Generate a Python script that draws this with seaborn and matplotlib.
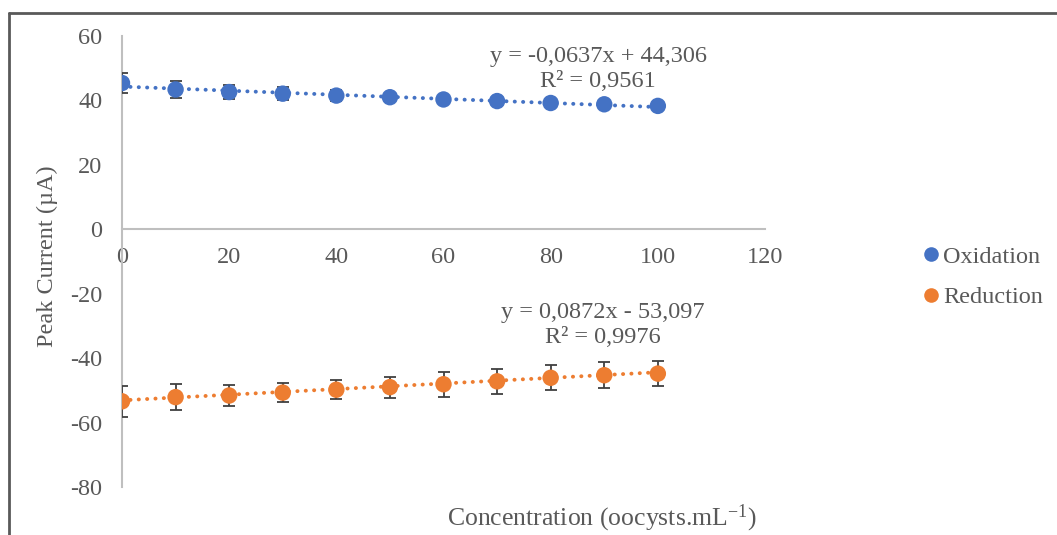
import numpy as np
import pandas as pd
import matplotlib
matplotlib.use("Agg")
import matplotlib.pyplot as plt
from matplotlib.lines import Line2D
import seaborn as sns

# Measured peak currents versus oocyst concentration
concentration = [0, 10, 20, 30, 40, 50, 60, 70, 80, 90, 100]
oxidation = [45.4, 43.4, 42.6, 42.1, 41.5, 41.0, 40.3, 39.8, 39.2, 38.8, 38.3]
oxidation_err = [3.0, 2.7, 2.3, 2.0, 1.8, 1.3, 1.0, 0.8, 0.7, 0.6, 0.5]
reduction = [-53.4, -52.1, -51.6, -50.7, -49.8, -49.0, -48.1, -47.2, -46.1, -45.3, -44.8]
reduction_err = [4.9, 4.0, 3.3, 2.9, 2.9, 3.3, 3.9, 3.8, 3.9, 4.1, 4.0]

# Linear trendline coefficients (slope, intercept, R²)
ox_fit = (-0.0637, 44.306, 0.9561)
red_fit = (0.0872, -53.097, 0.9976)

series_names = ["Oxidation", "Reduction"]
x_ticks = [0, 20, 40, 60, 80, 100, 120]
y_ticks = [-80, -60, -40, -20, 0, 20, 40, 60]

blue = "#4472C4"
orange = "#ED7D31"
text_grey = "#595959"
axis_grey = "#BFBFBF"
FS = 17.5

sns.set_theme(style="white")
plt.rcParams["font.family"] = ["Liberation Serif", "DejaVu Serif"]
plt.rcParams["mathtext.fontset"] = "custom"
plt.rcParams["mathtext.rm"] = "Liberation Serif"
plt.rcParams["mathtext.it"] = "Liberation Serif:italic"

W, H = 1057, 535
fig = plt.figure(figsize=(W / 100, H / 100), dpi=100)
ax = fig.add_axes([122 / W, 1 - 487 / H, (765 - 122) / W, (487 - 36) / H])

df = pd.DataFrame({
    "Concentration": concentration * 2,
    "Current": oxidation + reduction,
    "Err": oxidation_err + reduction_err,
    "Series": [series_names[0]] * len(concentration) + [series_names[1]] * len(concentration),
})

palette = {series_names[0]: blue, series_names[1]: orange}

# trendlines
xs = np.array([concentration[0], concentration[-1]], dtype=float)
for name, (m, b, _) in zip(series_names, [ox_fit, red_fit]):
    sns.lineplot(x=xs, y=m * xs + b, ax=ax, color=palette[name],
                 linestyle=(0, (0.05, 2.1)), linewidth=2.8,
                 dash_capstyle="round", zorder=2)

# error bars
for name, vals, errs in [(series_names[0], oxidation, oxidation_err),
                         (series_names[1], reduction, reduction_err)]:
    ax.errorbar(concentration, vals, yerr=errs, fmt="none", ecolor="#404040",
                elinewidth=1.3, capsize=4.2, capthick=1.3, zorder=3)

sns.scatterplot(data=df, x="Concentration", y="Current", hue="Series",
                palette=palette, s=140, edgecolor="none", ax=ax,
                legend=False, zorder=4)

ax.set_xlim(0, 120)
ax.set_ylim(-80, 60)
ax.set_xticks(x_ticks)
ax.set_yticks(y_ticks)
ax.set_xticklabels([str(t) for t in x_ticks])
ax.set_yticklabels([str(t) for t in y_ticks])
ax.set_xlabel("")
ax.set_ylabel("")

for s in ["top", "right"]:
    ax.spines[s].set_visible(False)
ax.spines["bottom"].set_position(("data", 0))
ax.spines["bottom"].set_color(axis_grey)
ax.spines["bottom"].set_linewidth(1.5)
ax.spines["left"].set_color(axis_grey)
ax.spines["left"].set_linewidth(1.5)
ax.tick_params(axis="both", length=0, labelsize=FS, labelcolor=text_grey)
ax.tick_params(axis="x", pad=13)
ax.tick_params(axis="y", pad=14)
ax.patch.set_alpha(0)

# trendline equations
def eq_text(m, b, r2):
    sign = "+" if b >= 0 else "-"
    ms = f"{m:.4f}".replace(".", ",")
    bs = f"{abs(b):.3f}".replace(".", ",")
    rs = f"{r2:.4f}".replace(".", ",")
    return f"y = {ms}x {sign} {bs}\nR² = {rs}"

fig.text(598 / W, 1 - 69 / H, eq_text(*ox_fit), ha="center", va="center",
         fontsize=FS, color=text_grey, linespacing=1.3)
fig.text(603 / W, 1 - 325 / H, eq_text(*red_fit), ha="center", va="center",
         fontsize=FS, color=text_grey, linespacing=1.3)

# axis titles
fig.text(47 / W, 1 - 256 / H, "Peak Current (µA)", rotation=90,
         ha="center", va="center", fontsize=FS, color=text_grey)
fig.text(602 / W, 1 - 518 / H, r"Concentration (oocysts.mL$^{-1}$)",
         ha="center", va="center", fontsize=18.5, color=text_grey)

# legend
handles = [Line2D([], [], marker="o", linestyle="none", markersize=10.5,
                  markerfacecolor=palette[n], markeredgecolor="none")
           for n in series_names]
fig.legend(handles, series_names, loc="center left",
           bbox_to_anchor=(909 / W, 1 - 277 / H), frameon=False,
           fontsize=FS, labelcolor=text_grey, handletextpad=0.0,
           handlelength=1.0, labelspacing=0.75, borderaxespad=0)

# outer frame
fig.add_artist(Line2D([9 / W, 9 / W], [0, 1 - 13 / H], transform=fig.transFigure,
                      color="#595959", linewidth=2))
fig.add_artist(Line2D([9 / W, 1], [1 - 13 / H, 1 - 13 / H], transform=fig.transFigure,
                      color="#595959", linewidth=2))

fig.savefig("out.png", dpi=100)
